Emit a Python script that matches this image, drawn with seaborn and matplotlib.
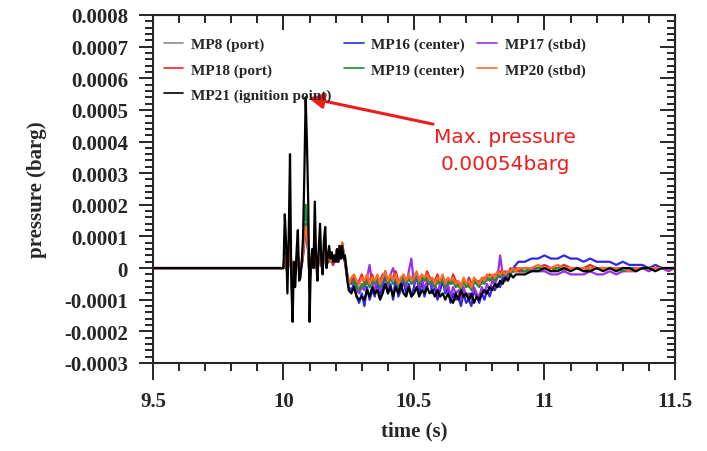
import numpy as np
import pandas as pd
import seaborn as sns
import matplotlib.pyplot as plt
from matplotlib.ticker import MultipleLocator, FuncFormatter

# time grid (s): flat part, burst (5 ms), decay (10 ms), tail (25 ms)
time = np.concatenate([
    [9.5, 10.0],
    10.0 + np.arange(1, 51) * 0.005,
    10.25 + np.arange(1, 66) * 0.01,
    10.9 + np.arange(1, 25) * 0.025,
])

# pressures, in 1e-5 barg
mp8 = [0, 0,
       3, 2, -1, 2, 7, 0, -3, 1, -1, 2, 3, 0, 0, 1, 4, 8, 11, 8, 5, -3,
       1, 2, 1, 6, 1, 0, 3, 5, 1, 0, 4, 5, 1, 2, 4, 2, 3, 1, 3, 2,
       5, 2, 6, 3, 6, 4, 2, 0, -3, -5,
       -4, -5, -5, -6, -6, -5, -5, -5, -5, -4, -4, -5, -5, -3, -4, -4, -4, -4, -5, -5,
       -4, -4, -4, -4, -5, -3, -4, -4, -3, -4, -4, -5, -5, -5, -4, -4, -5, -5, -4, -5,
       -5, -6, -6, -5, -5, -6, -6, -5, -4, -5, -5, -4, -4, -3, -4, -3, -3, -2, -2, -2,
       -1, -2, -1, 0, -1,
       -1, -1, 0, 0, 0, 0, -1, 0, 0, 0, 0, 0, 0, 0, -1, 0, 0, 0, 0, 0, 0, 0, 0, 0]
mp16 = [0, 0,
        4, 2, -2, 3, 8, 0, -4, 1, -2, 2, 4, -1, -1, 1, 4, 9, 12, 9, 5, -4,
        1, 3, 0, 7, 1, -1, 3, 6, 1, 0, 5, 6, 1, 2, 4, 2, 3, 1, 3, 2,
        5, 2, 6, 3, 7, 4, 2, -1, -4, -6,
        -7, -5, -9, -11, -8, -12, -6, -10, -7, -9, -4, -9, -6, -1, -8, -5, -10, -3, -9, -7,
        -4, -8, -5, -9, -6, -2, -8, -4, -9, -6, -3, -8, -6, -10, -7, -4, -8, -6, -11, -8,
        -10, -9, -12, -8, -11, -10, -12, -7, -9, -11, -8, -10, -7, -9, -6, -7, -5, -6, -3, -4,
        -2, -1, 0, 1, 2,
        2, 3, 3, 4, 3, 3, 4, 3, 3, 2, 3, 2, 2, 2, 1, 2, 1, 1, 1, 0, 1, 0, 0, 0]
mp17 = [0, 0,
        3, 2, -2, 3, 7, 0, -3, 1, -1, 2, 4, 0, -1, 1, 5, 10, 13, 10, 6, -3,
        1, 3, 1, 7, 2, -1, 3, 6, 2, 0, 5, 5, 1, 3, 4, 2, 4, 2, 3, 3,
        5, 3, 6, 4, 7, 5, 3, 0, -3, -5,
        -5, -4, -7, -8, -6, -7, -3, 1, -5, -7, -3, -7, -4, -1, -6, -2, 0, -3, -7, -5,
        -3, -6, -1, 3, -5, -2, -6, -3, -7, -4, -3, -6, -5, -8, -5, -3, -7, -5, -9, -6,
        -8, -7, -10, -6, -9, -8, -10, -6, -8, -9, -6, -8, -5, -7, -4, -5, -3, 4, -2, -3,
        -2, -1, -1, -1, -1,
        -1, 0, -1, -1, -2, -2, -1, -2, -2, -2, -1, -2, -2, -1, -2, -1, -1, -1, 0, -1, 0, 0, -1, 0]
mp18 = [0, 0,
        4, 2, -2, 3, 9, 0, -4, 1, -2, 2, 4, -1, 0, 1, 5, 11, 14, 10, 6, -4,
        1, 3, 0, 8, 1, -1, 3, 7, 1, 0, 5, 6, 1, 3, 5, 2, 4, 1, 4, 2,
        6, 2, 7, 3, 8, 4, 3, 0, -3, -5,
        -4, -3, -5, -4, -2, -5, -3, -4, -2, -5, -3, -4, -2, -2, -5, -3, -3, -1, -4, -4,
        -3, -5, -3, -3, -4, -2, -3, -3, -4, -1, -3, -4, -4, -2, -5, -3, -4, -4, -5, -2,
        -4, -5, -5, -4, -6, -3, -5, -4, -5, -4, -4, -3, -3, -2, -3, -2, -2, -1, -2, -1,
        -2, 0, -1, 0, -1,
        -1, 0, 0, 1, 0, 0, 1, 0, 0, 0, 1, 0, 0, 0, 0, 0, 0, 0, 0, 0, 0, 0, 0, 0]
mp19 = [0, 0,
        5, 3, -3, 4, 10, 0, -5, 1, -2, 3, 5, -1, -1, 2, 6, 14, 20, 15, 8, -5,
        1, 4, 1, 9, 2, -1, 4, 8, 2, 0, 6, 7, 1, 3, 5, 2, 4, 2, 4, 3,
        6, 3, 7, 4, 8, 5, 4, 1, -2, -4,
        -5, -4, -6, -7, -5, -6, -4, -6, -4, -5, -3, -6, -4, -2, -5, -3, -5, -3, -6, -4,
        -3, -5, -3, -5, -4, -2, -5, -3, -4, -3, -5, -4, -6, -4, -5, -3, -6, -4, -5, -4,
        -6, -5, -7, -4, -6, -5, -7, -4, -5, -6, -4, -5, -3, -4, -3, -4, -2, -3, -2, -2,
        -2, -1, -1, -1, 0,
        -1, 0, 0, 0, -1, 0, 0, 0, 0, -1, 0, 0, 0, 0, 0, -1, 0, 0, 0, 0, 0, 0, 0, 0]
mp20 = [0, 0,
        4, 3, -2, 3, 8, 1, -4, 1, -1, 2, 4, -1, 0, 2, 5, 10, 13, 10, 6, -3,
        1, 3, 1, 7, 2, -1, 3, 6, 2, 0, 5, 6, 2, 3, 4, 2, 4, 2, 4, 3,
        6, 3, 7, 4, 8, 5, 3, 0, -3, -5,
        -3, -2, -4, -5, -3, -4, -2, -5, -3, -4, -2, -5, -3, -1, -4, -2, -4, -2, -5, -3,
        -2, -4, -2, -4, -3, -1, -4, -2, -3, -2, -4, -3, -5, -3, -4, -2, -5, -3, -4, -3,
        -5, -4, -6, -3, -5, -4, -6, -3, -4, -5, -3, -4, -2, -3, -2, -3, -1, -2, -1, -2,
        -1, -1, 0, -1, 0,
        0, 0, 1, 0, 0, 1, 0, 0, 0, 0, 0, 0, 0, 0, 0, 0, -1, 0, 0, 0, 0, 0, 0, 0]
mp21 = [0, 0,
        17, 8, -8, 10, 36, -5, -17, 2, -6, 5, 12, -4, -3, 2, 10, 30, 54, 39, 20, -17,
        2, 6, 0, 21, 3, -4, 6, 14, 2, -2, 9, 13, 0, 4, 7, 3, 5, 2, 4, 2,
        6, 2, 7, 3, 7, 3, 4, 0, -4, -7,
        -8, -6, -9, -10, -9, -10, -7, -9, -6, -8, -7, -10, -8, -5, -8, -6, -9, -6, -8, -5,
        -8, -9, -6, -9, -8, -6, -9, -7, -8, -6, -8, -7, -9, -7, -9, -8, -10, -8, -10, -11,
        -8, -10, -7, -9, -8, -10, -8, -11, -9, -10, -8, -7, -8, -6, -7, -5, -6, -4, -5, -3,
        -4, -2, -3, -2, -2,
        -2, -1, -1, 0, -1, -1, 0, -1, 0, -1, -1, 0, -1, 0, -1, 0, 0, -1, 0, 0, -1, 0, 0, 0]

sensors = ['MP8 (port)', 'MP16 (center)', 'MP17 (stbd)', 'MP18 (port)',
           'MP19 (center)', 'MP20 (stbd)', 'MP21 (ignition point)']
colors = ['#8c8c8c', '#2a2ae0', '#9b30e8', '#e82828', '#1f8a3c', '#ff6a2a', '#000000']
legend_order = ['MP8 (port)', 'MP18 (port)', 'MP21 (ignition point)',
                'MP16 (center)', 'MP19 (center)', 'MP17 (stbd)', 'MP20 (stbd)']

frames = []
for name, vals in zip(sensors, [mp8, mp16, mp17, mp18, mp19, mp20, mp21]):
    frames.append(pd.DataFrame({'time': time, 'pressure': np.array(vals) * 1e-5, 'sensor': name}))
df = pd.concat(frames, ignore_index=True)

sns.set_style('ticks')
plt.rcParams['font.family'] = ['Liberation Serif', 'DejaVu Serif']
plt.rcParams['axes.unicode_minus'] = False

fig = plt.figure(figsize=(7.07, 4.52), dpi=100)
ax = fig.add_axes([0.2164, 0.1947, 0.7383, 0.77])
sns.lineplot(data=df, x='time', y='pressure', hue='sensor', hue_order=sensors,
             palette=dict(zip(sensors, colors)), estimator=None, lw=1.6, ax=ax)

ax.set_xlim(9.5, 11.5)
ax.set_ylim(-0.0003, 0.0008)
ax.xaxis.set_major_locator(MultipleLocator(0.5))
ax.xaxis.set_minor_locator(MultipleLocator(0.1))
ax.yaxis.set_major_locator(MultipleLocator(0.0001))
ax.yaxis.set_minor_locator(MultipleLocator(0.00002))
ax.xaxis.set_major_formatter(FuncFormatter(lambda v, p: '%g' % round(v, 2)))
ax.yaxis.set_major_formatter(FuncFormatter(lambda v, p: '0' if abs(v) < 1e-9 else '%.4f' % v))
for s in ax.spines.values():
    s.set_linewidth(1.5)
ax.tick_params(which='both', width=1.4, labelsize=15, direction='out', top=False, right=False)
ax.tick_params(axis='x', which='major', length=12, pad=8)
ax.tick_params(axis='y', which='major', length=10, pad=8)
ax.tick_params(which='minor', length=6)
for lab in ax.get_xticklabels() + ax.get_yticklabels():
    lab.set_fontweight('bold')
# mirrored inward ticks on top/right
ax2 = ax.secondary_xaxis('top')
ax2.xaxis.set_major_locator(MultipleLocator(0.5))
ax2.xaxis.set_minor_locator(MultipleLocator(0.1))
ax2.tick_params(which='both', direction='in', width=1.4, labeltop=False)
ax2.tick_params(which='major', length=11)
ax2.tick_params(which='minor', length=6)
ay2 = ax.secondary_yaxis('right')
ay2.yaxis.set_major_locator(MultipleLocator(0.0001))
ay2.yaxis.set_minor_locator(MultipleLocator(0.00002))
ay2.tick_params(which='both', direction='in', width=1.4, labelright=False)
ay2.tick_params(which='major', length=11)
ay2.tick_params(which='minor', length=6)

ax.set_xlabel('time (s)', fontsize=15, fontweight='bold', labelpad=7)
ax.set_ylabel('pressure (barg)', fontsize=15, fontweight='bold', labelpad=12)

handles, labels = ax.get_legend_handles_labels()
hmap = dict(zip(labels, handles))
ax.legend([hmap[k] for k in legend_order], legend_order, ncol=3, frameon=False,
          loc='upper left', bbox_to_anchor=(-0.006, 0.975),
          prop={'weight': 'bold', 'size': 11}, handlelength=1.3, handletextpad=0.5,
          columnspacing=0.8, labelspacing=0.75)
for line in ax.get_legend().get_lines():
    line.set_linewidth(1.2)

# peak annotation
peak_i = int(np.argmax(mp21))
peak = (time[peak_i], mp21[peak_i] * 1e-5)
ax.annotate('', xy=peak, xytext=(10.573, 0.000455),
            arrowprops=dict(arrowstyle='-|>,head_length=0.9,head_width=0.45',
                            color='#ee1c1c', lw=2.2, shrinkA=0, shrinkB=2))
ax.text(10.849, 0.000373, 'Max. pressure\n0.00054barg', color='#ee1c1c',
        fontsize=14.5, ha='center', va='center', family=['DejaVu Sans'], linespacing=1.5)

fig.savefig('out.png', dpi=100)
